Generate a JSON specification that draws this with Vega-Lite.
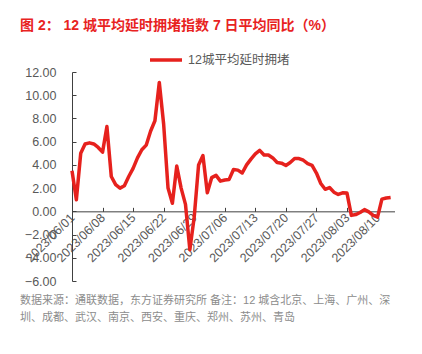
{
  "$schema": "https://vega.github.io/schema/vega-lite/v6.json",
  "padding": {"left": 20, "top": 19, "right": 0, "bottom": 5},
  "background": "white",
  "config": {
    "font": "Liberation Sans, Noto Sans CJK SC",
    "view": {"stroke": null},
    "concat": {"spacing": 0}
  },
  "title": {
    "text": ["数据来源：通联数据，东方证券研究所 备注：12 城含北京、上海、广州、深", "圳、成都、武汉、南京、西安、重庆、郑州、苏州、青岛"],
    "orient": "bottom", "anchor": "start", "fontSize": 11, "fontWeight": "normal",
    "color": "#8c8c8c", "lineHeight": 17, "offset": 7, "frame": "group", "dx": -52
  },
  "vconcat": [
    {
      "width": 323,
      "height": 209,
      "title": {
        "text": "图 2：  12 城平均延时拥堵指数 7 日平均同比（%）",
        "anchor": "start", "frame": "group", "dx": -52, "color": "#e8231f", "fontSize": 14,
        "fontWeight": "bold", "offset": 33
      },
      "data": {"values": [
        {"date": "2023-06-01", "v": 3.5},
        {"date": "2023-06-02", "v": 1.0},
        {"date": "2023-06-03", "v": 5.0},
        {"date": "2023-06-04", "v": 5.8},
        {"date": "2023-06-05", "v": 5.9},
        {"date": "2023-06-06", "v": 5.8},
        {"date": "2023-06-07", "v": 5.5},
        {"date": "2023-06-08", "v": 5.1},
        {"date": "2023-06-09", "v": 7.3},
        {"date": "2023-06-10", "v": 3.0},
        {"date": "2023-06-11", "v": 2.3},
        {"date": "2023-06-12", "v": 2.0},
        {"date": "2023-06-13", "v": 2.2},
        {"date": "2023-06-14", "v": 3.0},
        {"date": "2023-06-15", "v": 3.7},
        {"date": "2023-06-16", "v": 4.6},
        {"date": "2023-06-17", "v": 5.3},
        {"date": "2023-06-18", "v": 5.7},
        {"date": "2023-06-19", "v": 6.9},
        {"date": "2023-06-20", "v": 7.8},
        {"date": "2023-06-21", "v": 11.1},
        {"date": "2023-06-22", "v": 7.5},
        {"date": "2023-06-23", "v": 2.0},
        {"date": "2023-06-24", "v": 0.7},
        {"date": "2023-06-25", "v": 3.9},
        {"date": "2023-06-26", "v": 2.0},
        {"date": "2023-06-27", "v": 0.6},
        {"date": "2023-06-28", "v": -3.3},
        {"date": "2023-06-29", "v": -0.5},
        {"date": "2023-06-30", "v": 4.0},
        {"date": "2023-07-01", "v": 4.8},
        {"date": "2023-07-02", "v": 1.6},
        {"date": "2023-07-03", "v": 2.9},
        {"date": "2023-07-04", "v": 3.1},
        {"date": "2023-07-05", "v": 2.6},
        {"date": "2023-07-06", "v": 2.7},
        {"date": "2023-07-07", "v": 2.75},
        {"date": "2023-07-08", "v": 3.6},
        {"date": "2023-07-09", "v": 3.55},
        {"date": "2023-07-10", "v": 3.3},
        {"date": "2023-07-11", "v": 4.0},
        {"date": "2023-07-12", "v": 4.5},
        {"date": "2023-07-13", "v": 4.95},
        {"date": "2023-07-14", "v": 5.25},
        {"date": "2023-07-15", "v": 4.85},
        {"date": "2023-07-16", "v": 4.85},
        {"date": "2023-07-17", "v": 4.6},
        {"date": "2023-07-18", "v": 4.2},
        {"date": "2023-07-19", "v": 4.15},
        {"date": "2023-07-20", "v": 3.95},
        {"date": "2023-07-21", "v": 4.2},
        {"date": "2023-07-22", "v": 4.55},
        {"date": "2023-07-23", "v": 4.55},
        {"date": "2023-07-24", "v": 4.4},
        {"date": "2023-07-25", "v": 4.1},
        {"date": "2023-07-26", "v": 3.95},
        {"date": "2023-07-27", "v": 3.3},
        {"date": "2023-07-28", "v": 2.4},
        {"date": "2023-07-29", "v": 1.9},
        {"date": "2023-07-30", "v": 2.05},
        {"date": "2023-07-31", "v": 1.65},
        {"date": "2023-08-01", "v": 1.45},
        {"date": "2023-08-02", "v": 1.6},
        {"date": "2023-08-03", "v": 1.57},
        {"date": "2023-08-04", "v": -0.35},
        {"date": "2023-08-05", "v": -0.28},
        {"date": "2023-08-06", "v": -0.1},
        {"date": "2023-08-07", "v": 0.15},
        {"date": "2023-08-08", "v": -0.05},
        {"date": "2023-08-09", "v": -0.35},
        {"date": "2023-08-10", "v": -0.5},
        {"date": "2023-08-11", "v": 1.05},
        {"date": "2023-08-12", "v": 1.15},
        {"date": "2023-08-13", "v": 1.2}
      ]},
      "mark": {"type": "line", "strokeWidth": 3.5, "strokeJoin": "round"},
      "encoding": {
        "x": {
          "field": "date", "type": "temporal",
          "scale": {"type": "utc", "nice": false, "domain": [
            {"year": 2023, "month": 6, "date": 1, "utc": true},
            {"year": 2023, "month": 8, "date": 14, "utc": true}
          ]},
          "axis": {
            "title": null, "grid": false,
            "labelExpr": "utcFormat(datum.value, '%Y/%m/%d')",
            "values": [
              {"year": 2023, "month": 6, "date": 1, "utc": true},
              {"year": 2023, "month": 6, "date": 8, "utc": true},
              {"year": 2023, "month": 6, "date": 15, "utc": true},
              {"year": 2023, "month": 6, "date": 22, "utc": true},
              {"year": 2023, "month": 6, "date": 29, "utc": true},
              {"year": 2023, "month": 7, "date": 6, "utc": true},
              {"year": 2023, "month": 7, "date": 13, "utc": true},
              {"year": 2023, "month": 7, "date": 20, "utc": true},
              {"year": 2023, "month": 7, "date": 27, "utc": true},
              {"year": 2023, "month": 8, "date": 3, "utc": true},
              {"year": 2023, "month": 8, "date": 10, "utc": true}
            ],
            "labelAngle": -45, "labelAlign": "right", "labelBaseline": "middle",
            "offset": -69.67, "tickSize": -4, "labelPadding": 8,
            "domainColor": "#404040", "tickColor": "#404040", "labelColor": "#595959",
            "labelFontSize": 12.5, "labelOverlap": false, "labelFlush": false
          }
        },
        "y": {
          "field": "v", "type": "quantitative",
          "scale": {"domain": [-6, 12], "nice": false},
          "axis": {
            "title": null, "grid": false, "format": ".2f",
            "values": [-6, -4, -2, 0, 2, 4, 6, 8, 10, 12],
            "tickSize": -4, "labelPadding": 20,
            "domainColor": "#404040", "tickColor": "#404040", "labelColor": "#595959",
            "labelFontSize": 12.5
          }
        },
        "color": {
          "datum": "12城平均延时拥堵",
          "scale": {"range": ["#e6211d"]},
          "legend": {
            "title": null, "orient": "none", "legendX": 76, "legendY": -30,
            "symbolType": "stroke", "symbolSize": 1024, "symbolStrokeWidth": 3.5,
            "labelFontSize": 12.5, "labelColor": "#595959", "labelOffset": 4
          }
        }
      }
    }
  ]
}
